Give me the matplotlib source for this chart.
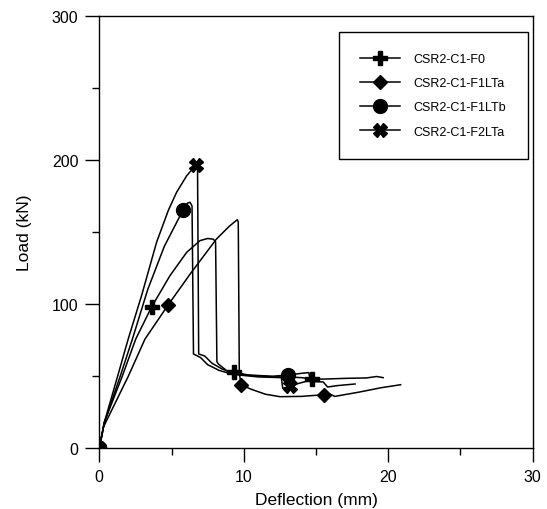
import numpy as np
import matplotlib
matplotlib.use('Agg')
import matplotlib.pyplot as plt
from matplotlib.lines import Line2D
from matplotlib.ticker import MultipleLocator

plt.rcParams['font.family'] = ['Liberation Sans', 'DejaVu Sans']

# load-deflection curves (mm, kN)
f0_x = [0, 0.35, 1.59, 2.52, 3.62, 4.89, 6.05, 6.97, 7.5, 7.9, 8.05, 8.14, 8.24,
        8.8, 9.34, 10.5, 12.0, 13.0, 14.0, 14.7, 15.5, 17.0, 18.5, 19.2, 19.65]
f0_y = [0, 18, 50, 75.7, 98, 119.7, 135.9, 144, 145.5, 145, 143, 60, 58.5,
        54, 52.7, 50.5, 49.5, 49.5, 49, 48.1, 48, 48.5, 48.8, 49.8, 49]

f1a_x = [0, 0.3, 2.01, 3.16, 4.78, 6.3, 8.1, 9.0, 9.55, 9.62, 9.69, 9.81,
         10.5, 11.5, 12.5, 14.0, 15.57, 16.0, 16.3, 18.0, 19.5, 20.86]
f1a_y = [0, 15, 50, 75.7, 99.6, 121, 145, 154, 158.5, 157, 52.7, 44.1,
         41, 37.5, 35.8, 36, 37.2, 37.5, 36, 39, 42, 44.1]

f1b_x = [0, 0.35, 1.45, 2.29, 3.35, 4.5, 5.8, 6.1, 6.28, 6.42, 6.52, 7.0, 7.5,
         8.3, 9.0, 10.0, 11.0, 12.0, 13.08, 14.0, 14.5, 14.6]
f1b_y = [0, 18, 50, 75.7, 110, 140, 165.3, 170, 170.6, 168, 65.4, 63, 58,
         54, 52, 51, 50.5, 50, 50.8, 52, 52.5, 47.5]

f2a_x = [0, 0.35, 1.27, 2.0, 2.93, 3.97, 4.78, 5.35, 6.05, 6.69, 6.8, 6.88,
         7.3, 7.8, 8.5, 9.5, 11.0, 12.6, 12.7, 13.2, 14.35, 15.5, 15.8, 16.5, 17.7]
f2a_y = [0, 18, 50, 75.7, 106, 143, 165, 177.5, 189, 196.5, 196, 65.4,
         64, 59, 55, 51, 49.5, 49, 41.5, 43.4, 46.5, 46, 42.5, 43.5, 44.6]

# marker positions
f0_mx, f0_my = [0, 3.62, 9.34, 14.7], [0, 98, 52.7, 48.1]
f1a_mx, f1a_my = [0, 4.78, 9.81, 15.57], [0, 99.6, 44.1, 37.2]
f1b_mx, f1b_my = [0, 5.8, 13.08], [0, 165.3, 50.8]
f2a_mx, f2a_my = [0, 6.69, 13.2], [0, 196.5, 43.4]

labels = ['CSR2-C1-F0', 'CSR2-C1-F1LTa', 'CSR2-C1-F1LTb', 'CSR2-C1-F2LTa']

fig = plt.figure(figsize=(5.47, 5.10), dpi=100)
ax = fig.add_axes([0.1815, 0.119, 0.7924, 0.8483])

series = [
    (f0_x, f0_y, f0_mx, f0_my, 'P', 10),
    (f1a_x, f1a_y, f1a_mx, f1a_my, 'D', 7.5),
    (f1b_x, f1b_y, f1b_mx, f1b_my, 'o', 10),
    (f2a_x, f2a_y, f2a_mx, f2a_my, 'X', 10),
]
handles = []
for x, y, mx, my, m, ms in series:
    ax.plot(x, y, color='black', lw=1.1)
    ax.plot(mx, my, linestyle='none', marker=m, ms=ms, color='black')
    handles.append(Line2D([], [], color='black', lw=1.1, marker=m, ms=ms))

ax.set_xlim(0, 30)
ax.set_ylim(0, 300)
ax.xaxis.set_major_locator(MultipleLocator(10))
ax.xaxis.set_minor_locator(MultipleLocator(5))
ax.yaxis.set_major_locator(MultipleLocator(100))
ax.yaxis.set_minor_locator(MultipleLocator(50))
ax.tick_params(which='major', direction='out', length=10, width=1, labelsize=11.5, pad=5)
ax.tick_params(which='minor', direction='out', length=5, width=1)
for s in ax.spines.values():
    s.set_linewidth(1)

ax.set_xlabel('Deflection (mm)', fontsize=12.5, labelpad=6)
ax.set_ylabel('Load (kN)', fontsize=12.5, labelpad=14)

leg = ax.legend(handles, labels, loc='upper right', bbox_to_anchor=(0.988, 0.963),
                borderaxespad=0, fontsize=9, handlelength=3.2, handletextpad=1.1,
                labelspacing=0.98, borderpad=1.7,
                fancybox=False, framealpha=1, edgecolor='black')
leg.get_frame().set_linewidth(1)

fig.savefig('out.png', dpi=100)
